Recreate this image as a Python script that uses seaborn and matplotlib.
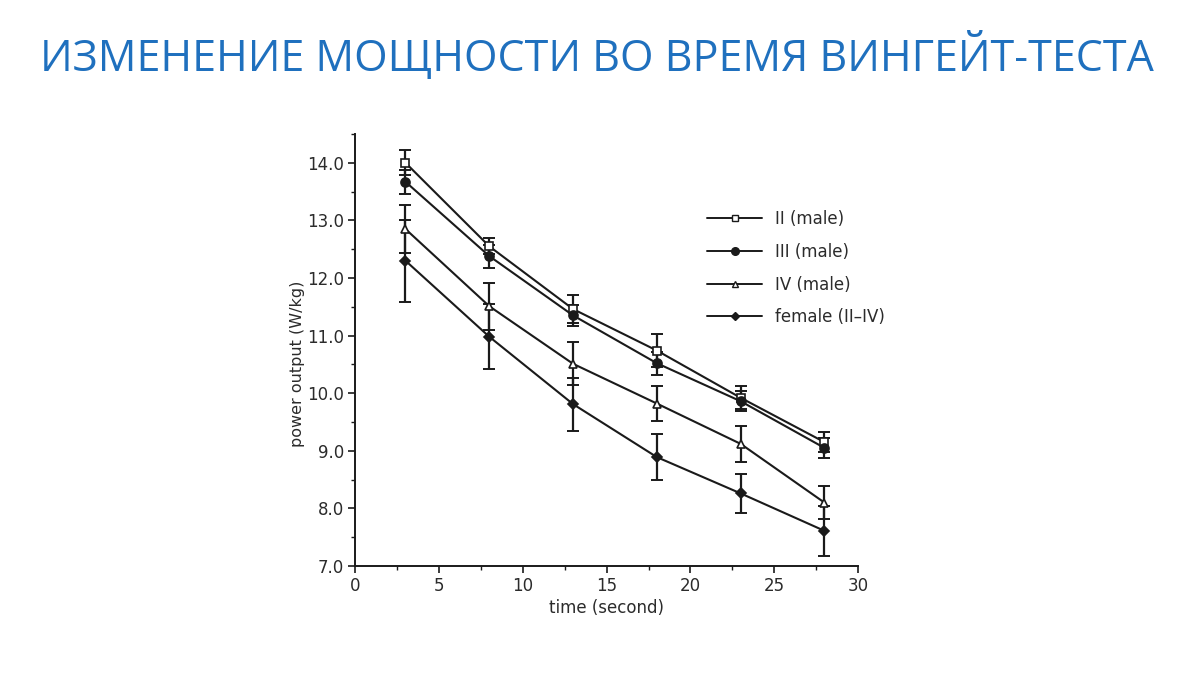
import matplotlib
matplotlib.use("Agg")
import matplotlib.pyplot as plt
import seaborn as sns
import pandas as pd
import numpy as np
from matplotlib.ticker import MultipleLocator, FormatStrFormatter
from matplotlib.lines import Line2D

# ---- data ----
time_s = [3, 8, 13, 18, 23, 28]
groups = ["II (male)", "III (male)", "IV (male)", "female (II\u2013IV)"]
ii_male = [14.0, 12.55, 11.46, 10.74, 9.92, 9.15]
iii_male = [13.67, 12.38, 11.35, 10.52, 9.86, 9.05]
iv_male = [12.85, 11.51, 10.51, 9.82, 9.12, 8.10]
female = [12.30, 10.98, 9.81, 8.89, 8.26, 7.61]
ii_err = [0.22, 0.14, 0.24, 0.28, 0.20, 0.17]
iii_err = [0.21, 0.20, 0.18, 0.20, 0.17, 0.18]
iv_err = [0.42, 0.41, 0.37, 0.30, 0.31, 0.28]
female_err = [0.71, 0.56, 0.46, 0.40, 0.34, 0.44]
title = "ИЗМЕНЕНИЕ МОЩНОСТИ ВО ВРЕМЯ ВИНГЕЙТ-ТЕСТА"
xlabel = "time (second)"
ylabel = "power output (W/kg)"

series = [ii_male, iii_male, iv_male, female]
errs = [ii_err, iii_err, iv_err, female_err]

df = pd.DataFrame({
    "time": np.tile(time_s, len(groups)),
    "power": np.concatenate(series),
    "group": np.repeat(groups, len(time_s)),
})

sns.set_theme(style="ticks")
plt.rcParams["font.family"] = ["DejaVu Sans"]

fig = plt.figure(figsize=(12, 6.75), dpi=100)
fig.patch.set_facecolor("white")
ax = fig.add_axes([0.296, 0.1615, 0.419, 0.64])

ink = "#1a1a1a"
txt = "#2b2b2b"
markers = {groups[0]: "s", groups[1]: "o", groups[2]: "^", groups[3]: "D"}
sizes = {groups[0]: 5.5, groups[1]: 6.5, groups[2]: 5.5, groups[3]: 5}
faces = {groups[0]: "white", groups[1]: ink, groups[2]: "white", groups[3]: ink}

# error bars
for g, vals, e in zip(groups, series, errs):
    ax.errorbar(time_s, vals, yerr=e, fmt="none", ecolor=ink,
                elinewidth=1.6, capsize=4, capthick=1.4, zorder=2)

sns.lineplot(data=df, x="time", y="power", hue="group", style="group",
             palette={g: ink for g in groups}, markers=markers, dashes=False,
             linewidth=1.5, ax=ax, legend=False, zorder=3)

for line, g in zip(ax.lines[-len(groups):], groups):
    line.set_markersize(sizes[g])
    line.set_markerfacecolor(faces[g])
    line.set_markeredgecolor(ink)
    line.set_markeredgewidth(1.2)

# legend
handles = [Line2D([0], [0], color=ink, lw=1.4, marker=markers[g],
                  markersize=sizes[g] - 1, markerfacecolor=faces[g],
                  markeredgecolor=ink) for g in groups]
leg = ax.legend(handles, groups, loc="upper left", bbox_to_anchor=(0.67, 0.858),
                frameon=False, fontsize=12, handlelength=3.3, labelspacing=0.88,
                handletextpad=0.8)
for t in leg.get_texts():
    t.set_color(txt)

ax.set_xlim(0, 30)
ax.set_ylim(7.0, 14.5)
ax.xaxis.set_major_locator(MultipleLocator(5))
ax.xaxis.set_minor_locator(MultipleLocator(2.5))
ax.set_yticks(np.arange(7.0, 14.01, 1.0))
ax.yaxis.set_minor_locator(MultipleLocator(0.5))
ax.yaxis.set_major_formatter(FormatStrFormatter("%.1f"))
ax.tick_params(axis="both", which="major", length=5, width=1.2, colors=ink,
               labelsize=12, labelcolor=txt, pad=3)
ax.tick_params(axis="both", which="minor", length=3, width=1.0, colors=ink)
for s in ["top", "right"]:
    ax.spines[s].set_visible(False)
for s in ["left", "bottom"]:
    ax.spines[s].set_color(ink)
    ax.spines[s].set_linewidth(1.4)
ax.set_xlabel(xlabel, fontsize=12, color=txt, labelpad=3)
ax.set_ylabel(ylabel, fontsize=11.5, color=txt)
ax.yaxis.set_label_coords(-0.1, 0.468)
ax.set_facecolor("white")

fig.text(0.4975, 0.915, title, ha="center", va="center", fontsize=31,
         color="#1F70BE", family=["Open Sans", "DejaVu Sans"])

fig.savefig("out.png", dpi=100, facecolor="white")
